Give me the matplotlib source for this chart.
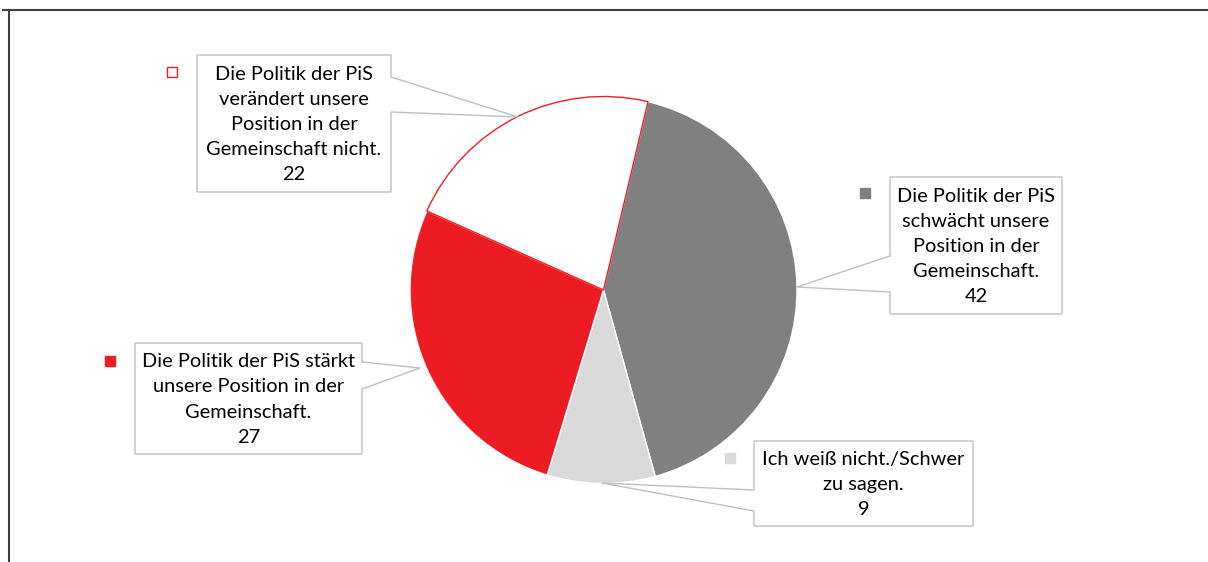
import matplotlib
matplotlib.use("Agg")
import matplotlib.pyplot as plt
from matplotlib.patches import Polygon, Rectangle

# ---- data ----
categories = [
    "Die Politik der PiS\nschwächt unsere\nPosition in der\nGemeinschaft.",
    "Ich weiß nicht./Schwer\nzu sagen.",
    "Die Politik der PiS stärkt\nunsere Position in der\nGemeinschaft.",
    "Die Politik der PiS\nverändert unsere\nPosition in der\nGemeinschaft nicht.",
]
values = [42, 9, 27, 22]
colors = ["#808080", "#d9d9d9", "#ed1c24", "#ffffff"]

W, H = 1208, 562
fig = plt.figure(figsize=(W / 100, H / 100), dpi=100)
ax = fig.add_axes([0, 0, 1, 1])

def Y(y):
    return H - y

# pie
cx, cy, r = 603.5, 290, 193.5
wedges, _ = ax.pie(values, colors=colors, startangle=76.7, counterclock=False,
                   center=(cx, Y(cy)), radius=r, frame=True,
                   wedgeprops=dict(edgecolor="white", linewidth=1.0))
wedges[3].set_edgecolor("#ed1c24")
wedges[3].set_linewidth(1.0)
wedges[3].set_zorder(3)

# callout boxes: (left, top, right, bottom), pointer side, base y pair, tip
boxes = [
    dict(box=(890, 177, 1062, 314), side="left", base=(256, 292), tip=(797, 287),
         marker=(865, 193)),
    dict(box=(754, 441, 973, 526), side="left", base=(490, 511), tip=(602, 483),
         marker=(730, 458)),
    dict(box=(135, 343, 362, 454), side="right", base=(362, 389), tip=(420, 368),
         marker=(110, 361)),
    dict(box=(197, 55, 391, 192), side="right", base=(77, 112), tip=(518, 117),
         marker=(172, 72)),
]

for i, b in enumerate(boxes):
    l, t, rr, bt = b["box"]
    b0, b1 = b["base"]
    tx, ty = b["tip"]
    if b["side"] == "right":
        pts = [(l, t), (rr, t), (rr, b0), (tx, ty), (rr, b1), (rr, bt), (l, bt)]
    else:
        pts = [(l, t), (rr, t), (rr, bt), (l, bt), (l, b1), (tx, ty), (l, b0)]
    pts = [(x, Y(y)) for x, y in pts]
    ax.add_patch(Polygon(pts, closed=True, facecolor="white", edgecolor="#bfbfbf",
                         linewidth=1.0, zorder=4))
    ax.text((l + rr) / 2, Y((t + bt) / 2 + 1), f"{categories[i]}\n{values[i]}",
            ha="center", va="center", fontsize=14.4, family="Lato",
            color="#000000", linespacing=1.58, zorder=5)
    mx, my = b["marker"]
    s = 10
    ec = "#ed1c24" if i == 3 else colors[i]
    ax.add_patch(Rectangle((mx - s / 2, Y(my) - s / 2), s, s, facecolor=colors[i],
                           edgecolor=ec, linewidth=1.0, zorder=5))

# frame lines
ax.plot([3, W], [Y(10), Y(10)], color="#404040", lw=1.5, zorder=6)
ax.plot([9, 9], [Y(10), 0], color="#404040", lw=1.5, zorder=6)

ax.set_xlim(0, W)
ax.set_ylim(0, H)
ax.set_aspect("equal")
ax.axis("off")

fig.savefig("out.png", dpi=100)
